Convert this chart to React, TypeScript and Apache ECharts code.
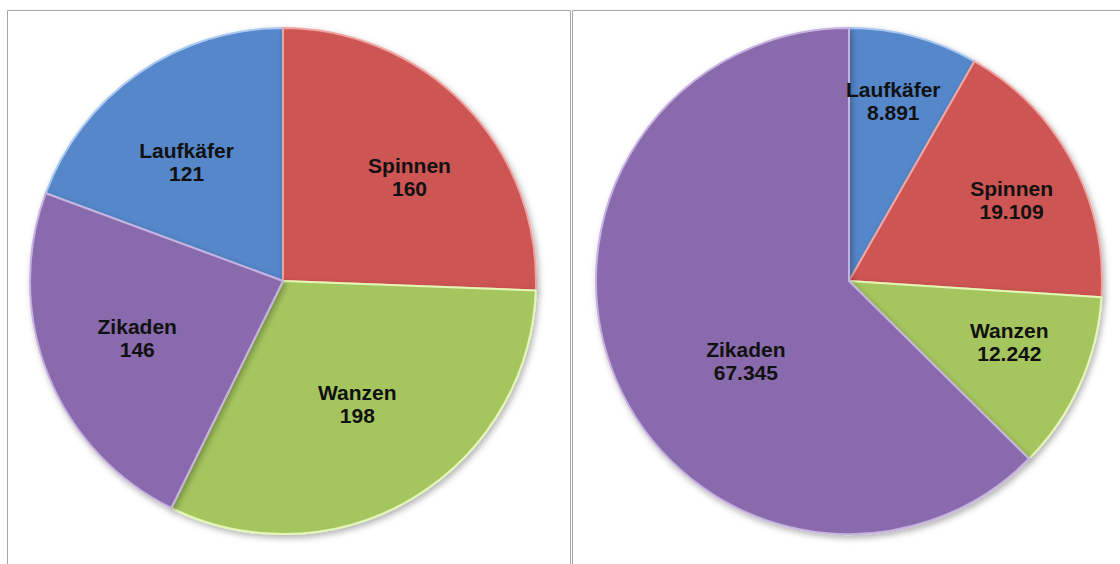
import React, { useEffect, useRef } from "react";
import * as echarts from "echarts";

const categories = ["Laufkäfer", "Spinnen", "Wanzen", "Zikaden"];
const leftValues = [121, 160, 198, 146];
const rightValues = [8891, 19109, 12242, 67345];
const sliceColors = ["#5587CA", "#CD5552", "#A5C65F", "#896BAC"];
const rimColors = ["#A9C8F0", "#F0A5A2", "#E4F7B4", "#C6B1E0"];

// label nudges [dx, dy]
const leftLabelOffset = [
  [-8, 8],
  [15, 3],
  [-5, -10],
  [-2, 0],
];
const rightLabelOffset = [
  [-2, -6],
  [4, 4],
  [-4, -13],
  [63, 11],
];

const fmt = (n: number) => String(Math.round(n)).replace(/\B(?=(\d{3})+(?!\d))/g, ".");

const R = 253;

function visibleData(values: number[]) {
  return categories.map((name, i) => ({
    name,
    value: values[i],
    itemStyle: { color: sliceColors[i], borderColor: rimColors[i] },
  }));
}

function labelData(values: number[], offs: number[][]) {
  return categories.map((name, i) => ({
    name,
    value: values[i],
    itemStyle: { color: "rgba(0,0,0,0)" },
    label: { offset: offs[i] },
  }));
}

const labelStyle = {
  show: true,
  position: "inside",
  color: "#111",
  fontFamily: "Liberation Sans, Arial, sans-serif",
  fontWeight: "bold",
  fontSize: 21,
  lineHeight: 23,
  formatter: (p: any) => `${p.name}\n${fmt(p.value)}`,
};

export default function App() {
  const ref = useRef<HTMLDivElement>(null);
  useEffect(() => {
    document.body.style.margin = "0";
    const chart = echarts.init(ref.current!, null, { renderer: "svg" });
    const sumL = leftValues.reduce((a, b) => a + b, 0);
    const leftStart = 90 + (360 * leftValues[0]) / sumL;

    const visibleItemStyle = {
      borderWidth: 2,
      shadowBlur: 6,
      shadowColor: "rgba(0,0,0,0.3)",
      shadowOffsetX: 2,
      shadowOffsetY: 3,
    };

    chart.setOption({
      animation: false,
      backgroundColor: "#ffffff",
      graphic: [
        {
          type: "rect",
          shape: { x: 7.5, y: 10.5, width: 563, height: 620 },
          style: { fill: "none", stroke: "#A6A6A6", lineWidth: 1 },
          z: -10,
        },
        {
          type: "rect",
          shape: { x: 572.5, y: 10.5, width: 620, height: 620 },
          style: { fill: "none", stroke: "#A6A6A6", lineWidth: 1 },
          z: -10,
        },
      ],
      series: [
        {
          type: "pie",
          center: [283, 281],
          radius: [0, R],
          startAngle: leftStart,
          clockwise: true,
          silent: true,
          label: { show: false },
          labelLine: { show: false },
          itemStyle: visibleItemStyle,
          data: visibleData(leftValues),
        },
        {
          type: "pie",
          center: [849, 281],
          radius: [0, R],
          startAngle: 90,
          clockwise: true,
          silent: true,
          label: { show: false },
          labelLine: { show: false },
          itemStyle: visibleItemStyle,
          data: visibleData(rightValues),
        },
        {
          type: "pie",
          center: [283, 281],
          radius: [0, R * 1.2],
          startAngle: leftStart,
          clockwise: true,
          silent: true,
          z: 5,
          label: labelStyle,
          labelLine: { show: false },
          data: labelData(leftValues, leftLabelOffset),
        },
        {
          type: "pie",
          center: [849, 281],
          radius: [0, R * 1.4],
          startAngle: 90,
          clockwise: true,
          silent: true,
          z: 5,
          label: labelStyle,
          labelLine: { show: false },
          data: labelData(rightValues, rightLabelOffset),
        },
      ],
    });
    return () => chart.dispose();
  }, []);
  return <div ref={ref} style={{ width: 1120, height: 564 }} />;
}
